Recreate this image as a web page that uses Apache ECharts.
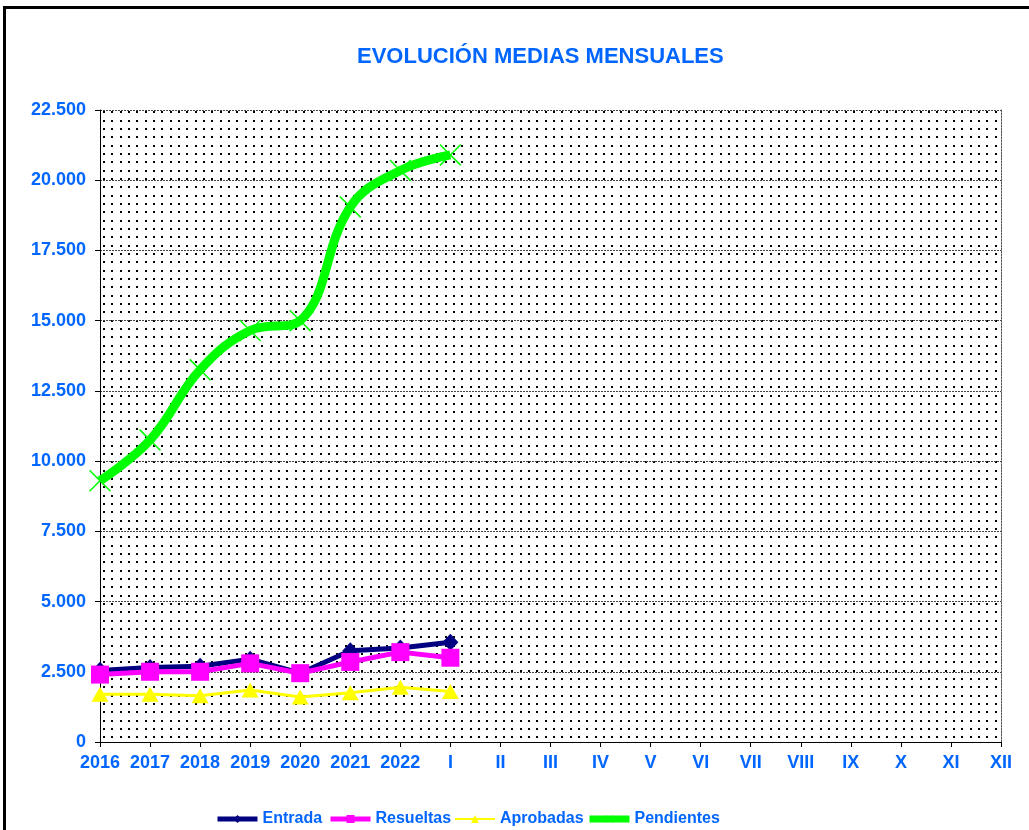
<!DOCTYPE html>
<html>
<head>
<meta charset="utf-8">
<script src="https://cdn.jsdelivr.net/npm/echarts@6/dist/echarts.min.js"></script>
<style>
  html, body { margin: 0; padding: 0; background: #fff; }
  #main { width: 1029px; height: 830px; }
</style>
</head>
<body>
<div id="main"></div>
<script>
var categories = ['2016', '2017', '2018', '2019', '2020', '2021', '2022',
    'I', 'II', 'III', 'IV', 'V', 'VI', 'VII', 'VIII', 'IX', 'X', 'XI', 'XII'];
var entrada = [2550, 2650, 2700, 2950, 2450, 3250, 3350, 3550];
var resueltas = [2400, 2500, 2500, 2800, 2450, 2850, 3200, 3000];
var aprobadas = [1700, 1700, 1650, 1850, 1600, 1750, 1950, 1800];
var pendientes = [9300, 10750, 13250, 14650, 15000, 19050, 20350, 20900];
var seriesNames = ['Entrada', 'Resueltas', 'Aprobadas', 'Pendientes'];

var blue = '#0066ff';
var crossPath = 'path://M0,1L1,0L20,19L19,20Z M19,0L20,1L1,20L0,19Z';

// fondo punteado del area de trazado
var tile = document.createElement('canvas');
tile.width = 25;
tile.height = 25;
var ctx = tile.getContext('2d');
ctx.fillStyle = '#000';
[0, 8, 17].forEach(function (x) {
    [0, 8, 17].forEach(function (y) {
        ctx.fillRect(x + 3, y + 3, 2, 2);
    });
});

// miles con punto: 22500 -> 22.500
function fmt(v) {
    return String(v).replace(/\B(?=(\d{3})+(?!\d))/g, '.');
}

var myChart = echarts.init(document.getElementById('main'));

function legendAt(name, left, lineColor, lineWidth) {
    return {
        data: [{ name: name, lineStyle: { width: lineWidth, color: lineColor } }],
        left: left,
        top: 811,
        itemWidth: 40,
        itemHeight: 10,
        padding: 0,
        textStyle: {
            color: blue,
            fontSize: 16,
            fontWeight: 'bold',
            fontFamily: "'Liberation Sans Narrow', 'Arial Narrow', 'Liberation Sans', Arial"
        }
    };
}

var option = {
    backgroundColor: '#fff',
    animation: false,
    title: {
        text: 'EVOLUCIÓN MEDIAS MENSUALES',
        left: 352,
        top: 41,
        textStyle: {
            color: blue,
            fontSize: 22,
            fontWeight: 'bold',
            fontFamily: "'Liberation Sans', Arial"
        }
    },
    legend: [
        legendAt('Entrada', 215, '#000080', 5),
        legendAt('Resueltas', 328, '#ff00ff', 5),
        legendAt('Aprobadas', 454, '#ffff00', 2),
        legendAt('Pendientes', 586, '#00ff00', 7)
    ],
    graphic: [{
        type: 'rect',
        shape: { x: 4.5, y: 7.5, width: 1100, height: 900 },
        style: { fill: 'none', stroke: '#000', lineWidth: 3 },
        silent: true
    }],
    grid: {
        left: 100,
        right: 28,
        top: 110,
        bottom: 88,
        show: true,
        borderWidth: 0,
        backgroundColor: { image: tile, repeat: 'repeat' }
    },
    xAxis: {
        type: 'category',
        data: categories,
        boundaryGap: false,
        axisLine: { lineStyle: { color: '#000', width: 1 } },
        axisTick: { show: true, length: 5, lineStyle: { color: '#000' } },
        axisLabel: {
            interval: 0,
            margin: 12,
            color: blue,
            fontSize: 18,
            fontWeight: 'bold',
            fontFamily: "'Liberation Sans', Arial"
        },
        splitLine: { show: false }
    },
    yAxis: [{
        type: 'value',
        min: 0,
        max: 22500,
        interval: 2500,
        axisLine: { show: true, lineStyle: { color: '#000', width: 1 } },
        axisTick: { show: true, length: 5, lineStyle: { color: '#000' } },
        axisLabel: {
            margin: 14,
            color: blue,
            fontSize: 18,
            fontWeight: 'bold',
            fontFamily: "'Liberation Sans', Arial",
            formatter: fmt
        },
        splitLine: { show: true, lineStyle: { color: '#444', width: 1, type: [2, 1] } }
    }, {
        type: 'value',
        position: 'right',
        min: 0,
        max: 22500,
        interval: 2500,
        axisLine: { show: true, lineStyle: { color: '#555', width: 1, type: [2, 1] } },
        axisTick: { show: false },
        axisLabel: { show: false },
        splitLine: { show: false }
    }],
    series: [
        {
            name: seriesNames[0],
            type: 'line',
            data: entrada,
            symbol: 'diamond',
            symbolSize: [16, 17],
            lineStyle: { color: '#000080', width: 5 },
            itemStyle: { color: '#000080' }
        },
        {
            name: seriesNames[1],
            type: 'line',
            data: resueltas,
            symbol: 'rect',
            symbolSize: 18,
            lineStyle: { color: '#ff00ff', width: 5 },
            itemStyle: { color: '#ff00ff' }
        },
        {
            name: seriesNames[2],
            type: 'line',
            data: aprobadas,
            symbol: 'triangle',
            symbolSize: [17, 15],
            lineStyle: { color: '#ffff00', width: 3 },
            itemStyle: { color: '#ffff00' }
        },
        {
            name: seriesNames[3],
            type: 'line',
            data: pendientes,
            smooth: 0.4,
            symbol: crossPath,
            symbolSize: 22,
            lineStyle: { color: '#00ff00', width: 9 },
            itemStyle: { color: '#00ff00' }
        }
    ]
};

myChart.setOption(option);
</script>
</body>
</html>
